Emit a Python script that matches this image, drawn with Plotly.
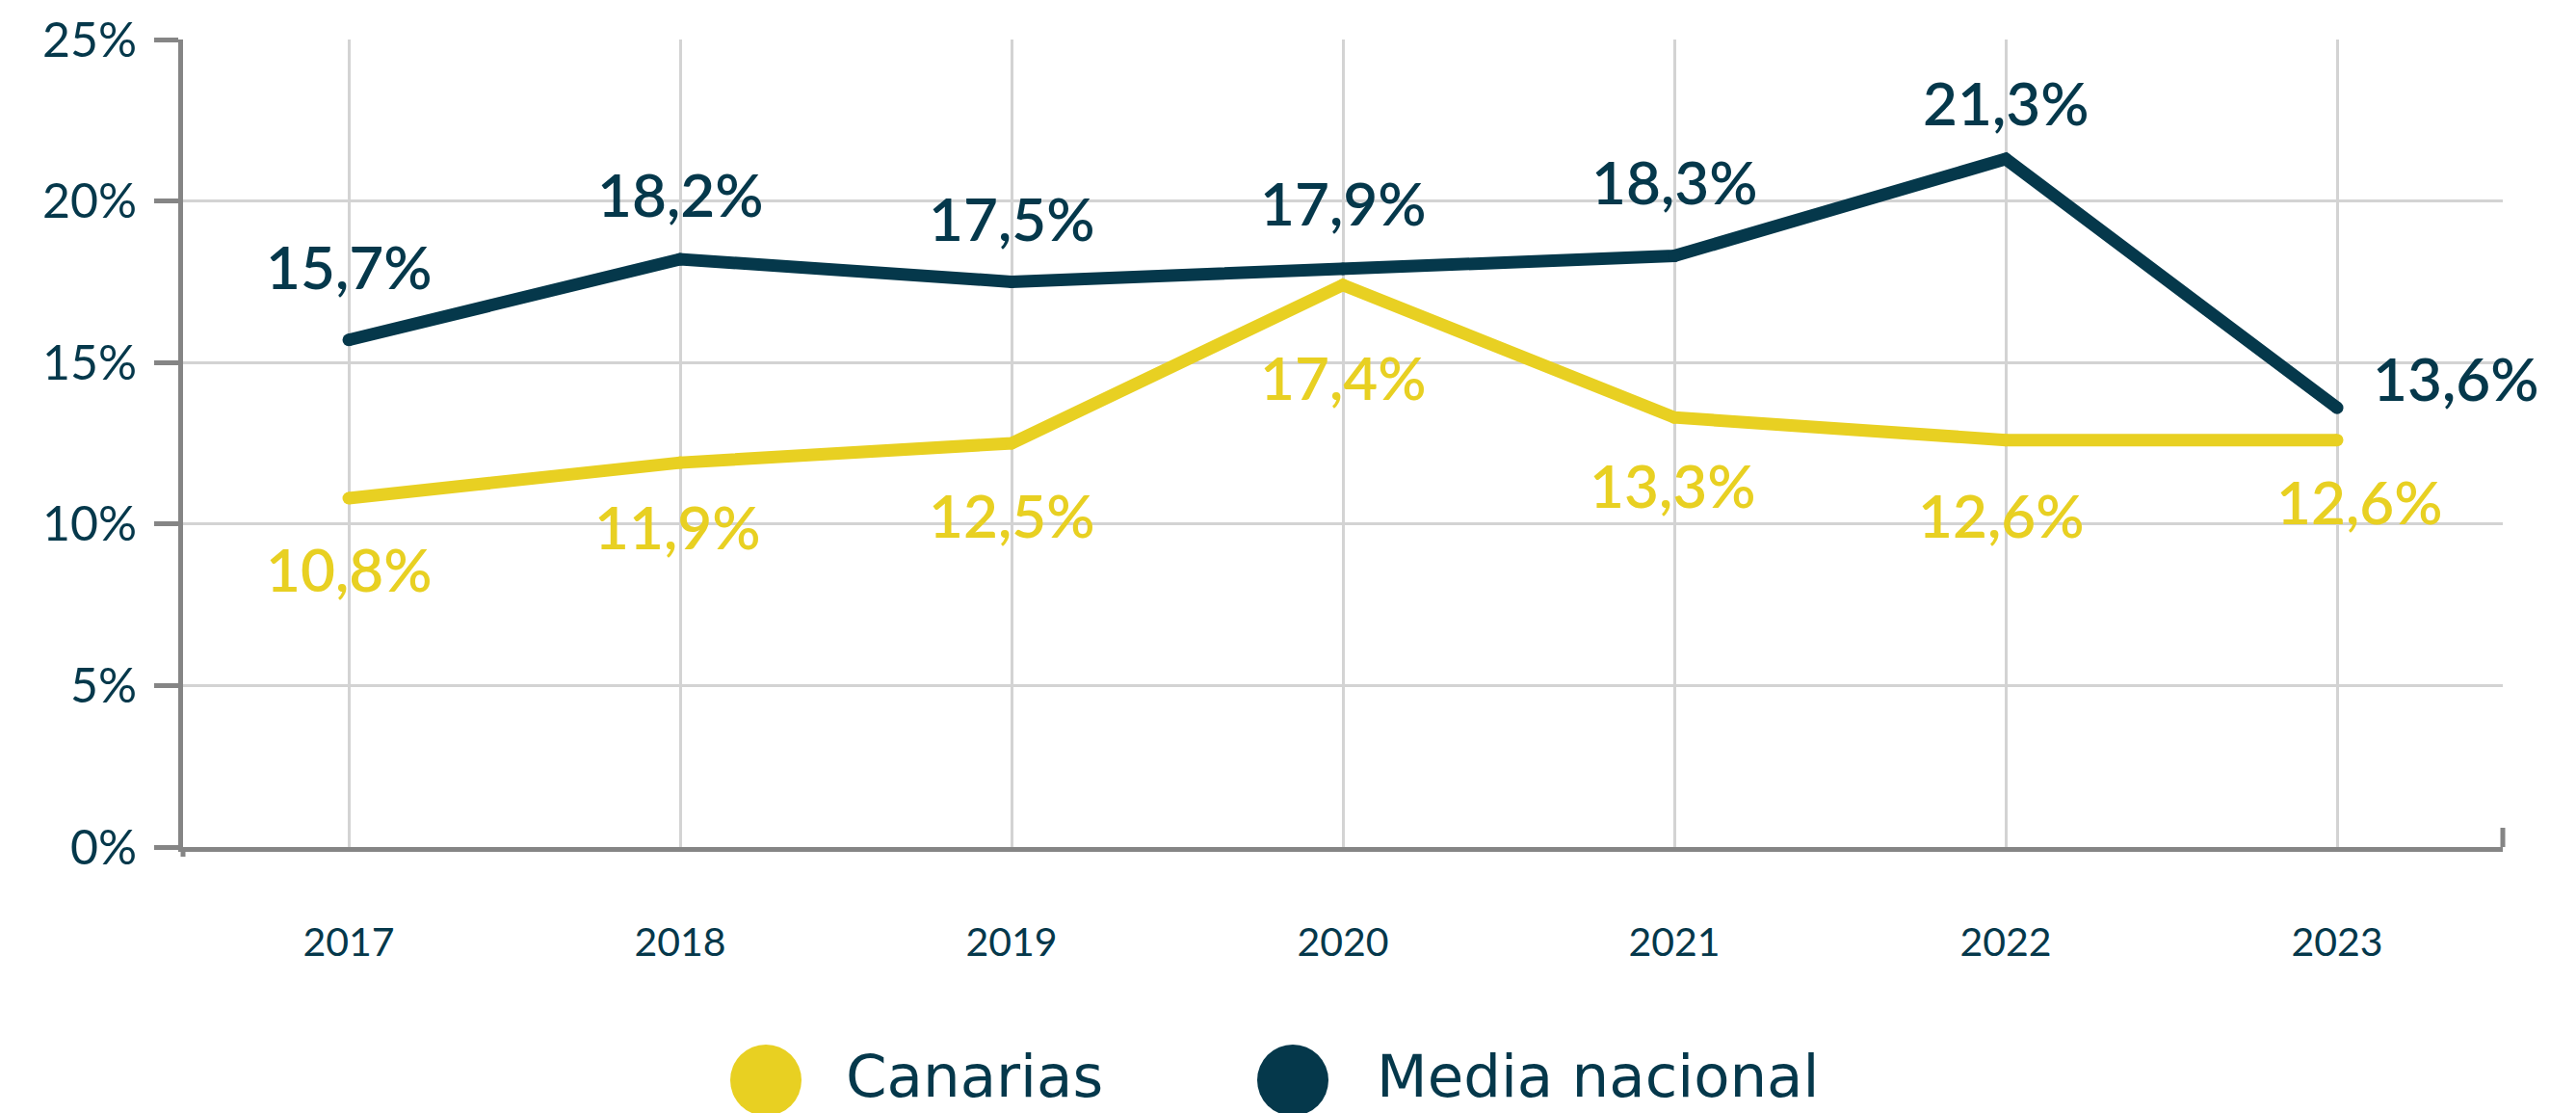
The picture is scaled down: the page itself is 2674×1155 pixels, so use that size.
import plotly.graph_objects as go

years = ["2017", "2018", "2019", "2020", "2021", "2022", "2023"]
canarias = [10.8, 11.9, 12.5, 17.4, 13.3, 12.6, 12.6]
media_nacional = [15.7, 18.2, 17.5, 17.9, 18.3, 21.3, 13.6]
y_ticks = [0, 5, 10, 15, 20, 25]

YELLOW = "#E8D022"
NAVY = "#05384B"
AXIS = "#858585"
GRID = "#D3D3D3"

# page body adds an 8px offset; compensate so the plot lands where the reference has it
OFF = 8
W, H = 2674 - OFF, 1155 - OFF
ML, MT = 190 - OFF, 41 - OFF
PW, PH = 2408, 838
MR = W - ML - PW
MB = H - MT - PH

# label placement (pixel shifts, not data)
navy_shift = [(0, 77), (0, 68), (0, 66), (0, 69), (0, 78), (0, 59), (123, 31)]
yellow_shift = [(0, -73), (-3, -66), (0, -74), (0, -95), (-2, -70), (-5, -77), (23, -63)]


def fmt(v):
    return f"{v:.1f}".replace(".", ",") + "%"


xs = list(range(len(years)))
n = len(years)

fig = go.Figure()
fig.add_trace(go.Scatter(x=xs, y=canarias, mode="lines+markers", name="Canarias",
                         line=dict(color=YELLOW, width=13),
                         marker=dict(color=YELLOW, size=13), hoverinfo="skip"))
fig.add_trace(go.Scatter(x=xs, y=media_nacional, mode="lines+markers", name="Media nacional",
                         line=dict(color=NAVY, width=13),
                         marker=dict(color=NAVY, size=13), hoverinfo="skip"))

label_font = dict(family="Lato", size=62, color=NAVY, weight=600)
ann = []
for i, v in enumerate(media_nacional):
    dx, dy = navy_shift[i]
    ann.append(dict(x=i, y=v, text=fmt(v), showarrow=False, xshift=dx, yshift=dy,
                    font=label_font, xanchor="center", yanchor="middle"))
for i, v in enumerate(canarias):
    dx, dy = yellow_shift[i]
    ann.append(dict(x=i, y=v, text=fmt(v), showarrow=False, xshift=dx, yshift=dy,
                    font=dict(label_font, color=YELLOW), xanchor="center", yanchor="middle"))

# legend drawn as big circles + text (screen px of the reference)
legend_items = [("Canarias", YELLOW, 795, 876), ("Media nacional", NAVY, 1342, 1427)]
leg_cy = 1121
shapes = []
for name, col, cx, tx in legend_items:
    px = (cx - OFF - ML) / PW
    py = (MT + PH - (leg_cy - OFF)) / PH
    shapes.append(dict(type="circle", xref="paper", yref="paper", xsizemode="pixel", ysizemode="pixel",
                       xanchor=px, yanchor=py, x0=-37, x1=37, y0=-37, y1=37,
                       fillcolor=col, line=dict(width=0)))
    ann.append(dict(xref="paper", yref="paper", x=(tx - OFF - ML) / PW, y=-(MB - 1) / PH,
                    text=name, showarrow=False, xanchor="left", yanchor="bottom",
                    font=dict(family="DejaVu Sans", size=61, color=NAVY)))

# end ticks of the x axis
shapes.append(dict(type="line", xref="paper", yref="paper", ysizemode="pixel", yanchor=0,
                   x0=0, x1=0, y0=0, y1=-10, line=dict(color=AXIS, width=5)))
shapes.append(dict(type="line", xref="paper", yref="paper", ysizemode="pixel", yanchor=0,
                   x0=1, x1=1, y0=0, y1=20, line=dict(color=AXIS, width=5)))

fig.update_layout(
    width=W, height=H,
    margin=dict(l=ML, r=MR, t=MT, b=MB, pad=0, autoexpand=False),
    paper_bgcolor="white", plot_bgcolor="white",
    showlegend=False,
    annotations=ann,
    shapes=shapes,
    xaxis=dict(range=[-0.5, n - 0.5], tickmode="array", tickvals=xs, ticktext=years, ticks="",
               showgrid=True, gridcolor=GRID, gridwidth=3, zeroline=False,
               showline=True, linecolor=AXIS, linewidth=5,
               tickfont=dict(family="Lato", size=41, color=NAVY),
               ticklabelstandoff=59, fixedrange=True, automargin=False),
    yaxis=dict(range=[0, 25], tickmode="array", tickvals=y_ticks,
               ticktext=[f"{v}%" for v in y_ticks], ticks="outside",
               ticklen=25, tickwidth=5, tickcolor=AXIS,
               showgrid=True, gridcolor=GRID, gridwidth=3, zeroline=False,
               showline=True, linecolor=AXIS, linewidth=5,
               tickfont=dict(family="Lato", size=50, color=NAVY),
               ticklabelstandoff=8, fixedrange=True, automargin=False),
)

fig.write_html("out.html", config={"displayModeBar": False})
